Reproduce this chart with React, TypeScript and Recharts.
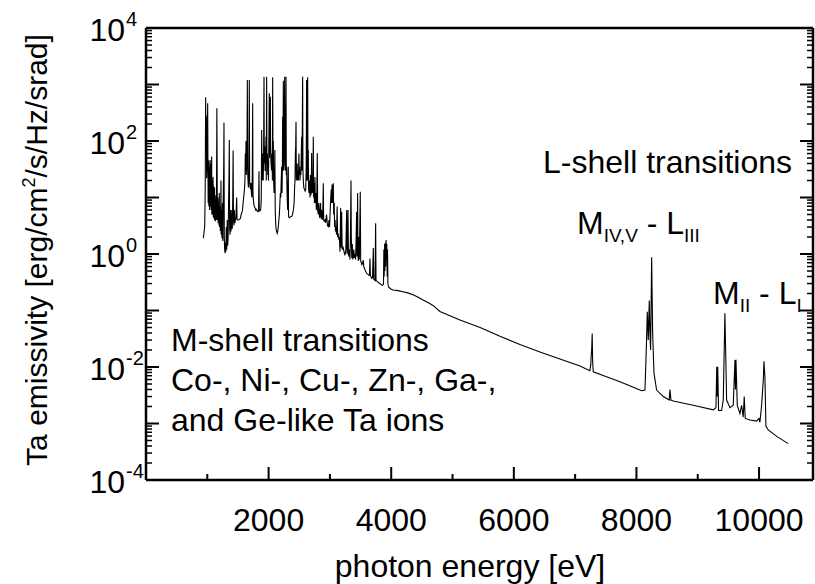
import React from 'react';
import { LineChart, Line, XAxis, YAxis, Customized } from 'recharts';

// [photon energy (eV), emissivity (erg/cm2/s/Hz/srad)]
// M-shell band, onset up to ~1.6 keV
const mBandLow: [number, number][] = [
  [935, 1.9], [945, 2.3], [958, 3.2], [966, 14], [973, 593], [978, 60], [984, 280], [989, 22],
  [996, 40], [1001, 120], [1006, 465], [1011, 30], [1014, 8], [1016, 12], [1019, 30], [1022, 45],
  [1025, 7], [1028, 9], [1031, 35], [1034, 22], [1037, 6], [1040, 8], [1043, 30], [1046, 46],
  [1049, 7], [1052, 10], [1056, 28], [1060, 40], [1063, 6], [1066, 7], [1069, 25], [1071, 53],
  [1074, 5], [1076, 6], [1079, 20], [1082, 14], [1085, 5], [1088, 5.5], [1091, 18], [1094, 23],
  [1097, 4.5], [1100, 5], [1103, 16], [1106, 12], [1109, 4.2], [1112, 4.5], [1115, 12], [1118, 15],
  [1121, 4], [1124, 4], [1127, 11], [1130, 10], [1133, 3.8], [1136, 4.2], [1140, 9], [1144, 8],
  [1147, 4], [1151, 20], [1156, 380], [1162, 12], [1165, 4], [1168, 5], [1172, 10], [1175, 9],
  [1178, 3.5], [1182, 3.8], [1186, 8], [1189, 7], [1192, 3.2], [1196, 12], [1199, 3], [1202, 3.5],
  [1206, 7], [1209, 6], [1212, 2.6], [1216, 2.6], [1220, 9], [1223, 20], [1226, 2.2], [1230, 2.3],
  [1233, 6], [1236, 5], [1239, 1.9], [1242, 2.0], [1246, 7], [1249, 8], [1252, 1.7], [1255, 1.8],
  [1259, 9], [1262, 15], [1267, 30], [1272, 211], [1277, 2], [1283, 1.2], [1289, 1.03], [1296, 1.6],
  [1303, 1.1], [1310, 3], [1317, 1.2], [1325, 4], [1332, 1.4], [1340, 2], [1347, 8], [1354, 25],
  [1359, 104], [1364, 3], [1371, 2.2], [1379, 6], [1386, 2.5], [1394, 3.5], [1401, 6], [1408, 2.8],
  [1415, 10], [1421, 68], [1427, 4], [1434, 3.2], [1442, 6], [1450, 3.5], [1458, 4], [1466, 4.2],
  [1472, 6], [1479, 10], [1485, 4.1], [1495, 4.0], [1510, 4.0], [1525, 4.1], [1540, 4.3], [1552, 5.0],
  [1562, 5.3], [1574, 6], [1584, 8], [1594, 10.3],
];

// M-shell band, strongest lines 1.6 - 2.7 keV
const mBandMid: [number, number][] = [
  [1606, 14], [1614, 20], [1620, 60], [1625, 30], [1631, 100], [1636, 25], [1642, 40], [1647, 60],
  [1653, 1200], [1658, 30], [1664, 20], [1670, 15], [1677, 25], [1685, 1200], [1690, 20], [1696, 15.6],
  [1704, 14], [1711, 18], [1719, 12], [1727, 10], [1734, 25], [1740, 465], [1745, 12], [1752, 9],
  [1760, 7.5], [1770, 6.8], [1780, 6.5], [1790, 6], [1800, 6.2], [1812, 5.8], [1825, 5.6], [1836, 6],
  [1843, 29], [1848, 5.8], [1860, 5.8], [1872, 6.2], [1880, 9], [1887, 157], [1892, 20], [1900, 25],
  [1906, 60], [1912, 20], [1918, 50], [1925, 1370], [1930, 40], [1937, 80], [1943, 30], [1950, 30],
  [1957, 119], [1962, 20], [1968, 1370], [1973, 40], [1980, 60], [1986, 25], [1992, 35], [1998, 20],
  [2004, 100], [2011, 698], [2016, 50], [2022, 200], [2028, 610], [2033, 80], [2040, 40], [2048, 30],
  [2056, 60], [2062, 20], [2066, 1340], [2072, 40], [2077, 100], [2082, 20], [2089, 12], [2096, 15],
  [2102, 69], [2108, 6], [2115, 3.5], [2122, 2.8], [2131, 2.48], [2140, 2.32], [2150, 2.6], [2158, 3],
  [2167, 4], [2176, 5], [2184, 8], [2192, 12], [2199, 10], [2206, 20], [2213, 35], [2219, 12],
  [2225, 40], [2229, 270], [2234, 30], [2240, 1170], [2245, 30], [2250, 60], [2256, 300], [2262, 1370],
  [2267, 40], [2274, 30], [2280, 80], [2284, 1370], [2289, 25], [2295, 35], [2301, 12], [2310, 6],
  [2321, 35], [2326, 4.6], [2336, 4.4], [2350, 4.5], [2364, 4.6], [2376, 4.6], [2390, 5], [2404, 6],
  [2416, 8], [2424, 15], [2430, 20], [2437, 60], [2442, 80], [2447, 220], [2452, 20], [2459, 25],
  [2466, 40], [2473, 20], [2480, 30], [2487, 20], [2494, 60], [2500, 25], [2506, 35], [2512, 20],
  [2519, 30], [2526, 25], [2533, 60], [2539, 119], [2544, 30], [2550, 200], [2555, 1370], [2560, 30],
  [2566, 20], [2574, 15], [2584, 14], [2596, 13], [2606, 14], [2614, 40], [2620, 1200], [2625, 20],
  [2630, 100], [2637, 1340], [2642, 20], [2647, 69], [2652, 14], [2660, 12], [2668, 20], [2675, 10],
  [2682, 25], [2690, 11], [2696, 15],
];

// M-shell band, weaker lines fading into the continuum up to 4 keV
const mBandTail: [number, number][] = [
  [2702, 61], [2708, 12], [2715, 20], [2722, 12], [2729, 119], [2734, 10], [2740, 18], [2748, 8],
  [2756, 23], [2762, 8], [2770, 12], [2778, 6], [2786, 10], [2794, 61], [2800, 6], [2810, 5],
  [2820, 8], [2830, 4.5], [2838, 4.6], [2848, 8], [2856, 4.2], [2866, 6], [2876, 4], [2884, 5],
  [2892, 17.8], [2898, 4], [2908, 3.8], [2919, 4], [2930, 3.6], [2945, 5], [2960, 3.2], [2974, 3.05],
  [2985, 4], [2995, 3], [3005, 6], [3014, 10], [3022, 14], [3029, 8], [3035, 17], [3041, 8],
  [3048, 12], [3055, 17.8], [3062, 5], [3070, 8], [3077, 3], [3084, 4], [3091, 2.5], [3100, 3],
  [3108, 2.2], [3118, 6.9], [3126, 2.0], [3135, 2.3], [3145, 1.8], [3155, 2], [3164, 1.1], [3175, 6.5],
  [3182, 1.3], [3191, 5.6], [3200, 1.2], [3215, 1.3], [3230, 1.1], [3245, 0.95], [3260, 1.2], [3273, 6],
  [3280, 1.0], [3288, 1.5], [3295, 6], [3302, 1.0], [3312, 0.9], [3320, 1.2], [3327, 0.8], [3335, 2],
  [3340, 8], [3344, 20], [3349, 2], [3356, 0.85], [3365, 1.5], [3374, 0.8], [3382, 0.9], [3390, 1.2],
  [3400, 0.85], [3410, 1.0], [3418, 0.8], [3426, 1.5], [3436, 5.6], [3441, 0.9], [3447, 3], [3452, 12],
  [3457, 1], [3464, 0.75], [3472, 2], [3480, 0.8], [3495, 12.7], [3502, 0.75], [3512, 0.7], [3522, 0.65],
  [3532, 0.68], [3544, 0.78], [3552, 0.6], [3565, 0.55], [3580, 0.5], [3592, 0.47], [3604, 0.45], [3618, 0.44],
  [3632, 0.42], [3645, 0.42], [3653, 0.83], [3660, 0.41], [3670, 0.4], [3681, 0.37], [3695, 0.38], [3708, 1.28],
  [3714, 0.36], [3725, 0.35], [3735, 0.34], [3746, 3.5], [3752, 0.34], [3766, 0.33], [3780, 0.32], [3795, 0.31],
  [3816, 0.3], [3832, 0.29], [3848, 0.28], [3862, 0.28], [3874, 0.3], [3880, 1.2], [3885, 0.4], [3892, 1.5],
  [3897, 0.5], [3904, 1.6], [3910, 0.6], [3916, 1.77], [3922, 0.8], [3928, 1.5], [3934, 0.4], [3940, 1.2],
  [3946, 0.3], [3955, 0.26], [3975, 0.25], [3995, 0.24],
];

// free-bound / bremsstrahlung continuum between the two line groups
const continuum: [number, number][] = [
  [4030, 0.23], [4110, 0.225], [4190, 0.215], [4270, 0.205], [4356, 0.19], [4440, 0.172], [4518, 0.153],
  [4600, 0.138], [4681, 0.123], [4795, 0.096], [5121, 0.068], [5450, 0.05], [5774, 0.035], [6100, 0.025],
  [6426, 0.0184], [6752, 0.0139], [7079, 0.0104], [7240, 0.0086],
];

// L-shell lines on the high-energy tail
const lShellLines: [number, number][] = [
  [7255, 0.011], [7262, 0.016], [7270, 0.02], [7278, 0.039], [7286, 0.012], [7296, 0.0082], [7500, 0.0068],
  [7731, 0.0055], [7950, 0.0044], [8084, 0.0038], [8139, 0.0039], [8155, 0.0133], [8165, 0.03], [8177, 0.095],
  [8193, 0.03], [8209, 0.15], [8220, 0.04], [8231, 0.02], [8248, 0.875], [8264, 0.041], [8286, 0.0078],
  [8329, 0.0039], [8438, 0.003], [8535, 0.0026], [8546, 0.004], [8563, 0.0026], [8600, 0.0025], [8926, 0.0021],
  [9253, 0.00174], [9297, 0.0019], [9310, 0.0101], [9318, 0.003], [9326, 0.0101], [9340, 0.0017], [9389, 0.0017],
  [9416, 0.0026], [9443, 0.089], [9471, 0.0026], [9525, 0.0019], [9579, 0.0021], [9607, 0.0133], [9615, 0.004],
  [9623, 0.0135], [9645, 0.0021], [9688, 0.0015], [9715, 0.0021], [9742, 0.0013], [9758, 0.003], [9775, 0.00123],
  [9851, 0.00115], [9960, 0.0011], [9998, 0.00123], [10014, 0.00105], [10042, 0.0021], [10058, 0.0039],
  [10070, 0.006], [10080, 0.0126], [10096, 0.0066], [10112, 0.0009], [10150, 0.00077], [10300, 0.00058],
  [10477, 0.00044],
];

const xTicks = [1000, 2000, 3000, 4000, 5000, 6000, 7000, 8000, 9000, 10000];
const xLabelStep = 2000;
const decades = [-4, -3, -2, -1, 0, 1, 2, 3, 4];
const minorSteps = [2, 3, 4, 5, 6, 7, 8, 9];
const labelledDecades = [-4, -2, 0, 2, 4];

const yTicks: number[] = [];
decades.forEach((d) => {
  yTicks.push(Math.pow(10, d));
  if (d < 4) minorSteps.forEach((m) => yTicks.push(m * Math.pow(10, d)));
});

const FONT = 'Liberation Sans, Arial, Helvetica, sans-serif';
const TEXT = 32;
const SUB = 19;
const MAJOR = 13;
const MINOR = 6;

const data = [...mBandLow, ...mBandMid, ...mBandTail, ...continuum, ...lShellLines].map(([e, v]) => ({ e, v }));

const decadeOf = (v: number) => {
  const p = Math.floor(Math.log10(v) + 1e-9);
  return { p, major: Math.abs(v / Math.pow(10, p) - 1) < 1e-6 };
};

const BottomTick = ({ x, y, payload }: any) => {
  const major = payload.value % xLabelStep === 0;
  return (
    <g>
      <line x1={x} x2={x} y1={y} y2={y - (major ? MAJOR : MINOR)} stroke="#000" strokeWidth={2} />
      {major && (
        <text x={x} y={y + 51} textAnchor="middle" fontSize={TEXT} fontFamily={FONT} fill="#000">
          {payload.value}
        </text>
      )}
    </g>
  );
};

const TopTick = ({ x, y, payload }: any) => {
  const major = payload.value % xLabelStep === 0;
  return <line x1={x} x2={x} y1={y} y2={y + (major ? MAJOR : MINOR)} stroke="#000" strokeWidth={2} />;
};

const LeftTick = ({ x, y, payload }: any) => {
  const { p, major } = decadeOf(payload.value);
  return (
    <g>
      <line x1={x} x2={x + (major ? MAJOR : MINOR)} y1={y} y2={y} stroke="#000" strokeWidth={major ? 2 : 1.5} />
      {major && labelledDecades.includes(p) && (
        <g fontFamily={FONT} fill="#000">
          <text x={x - 21} y={y + 13} textAnchor="end" fontSize={TEXT}>10</text>
          <text x={x - 20} y={y - 2} textAnchor="start" fontSize={20}>{p}</text>
        </g>
      )}
    </g>
  );
};

const RightTick = ({ x, y, payload }: any) => {
  const { major } = decadeOf(payload.value);
  return <line x1={x} x2={x - (major ? MAJOR : MINOR)} y1={y} y2={y} stroke="#000" strokeWidth={major ? 2 : 1.5} />;
};

const Annotations = () => (
  <g fontFamily={FONT} fill="#000">
    <text x={470} y={577} textAnchor="middle" fontSize={TEXT}>photon energy [eV]</text>
    <text x={47} y={250} textAnchor="middle" fontSize={30} transform="rotate(-90 47 250)">
      Ta emissivity [erg/cm
      <tspan fontSize={18} dy={-12}>2</tspan>
      <tspan dy={12}>/s/Hz/srad]</tspan>
    </text>

    <text x={792} y={173} textAnchor="end" fontSize={TEXT}>L-shell transitions</text>
    <text x={577} y={234} fontSize={TEXT}>
      M<tspan fontSize={SUB} dy={8}>IV,V</tspan>
      <tspan dy={-8}> - L</tspan>
      <tspan fontSize={SUB} dy={8}>III</tspan>
    </text>
    <text x={713} y={304} fontSize={TEXT}>
      M<tspan fontSize={SUB} dy={8}>II</tspan>
      <tspan dy={-8}> - L</tspan>
      <tspan fontSize={SUB} dy={8}>I</tspan>
    </text>

    <text x={171} y={351} fontSize={TEXT}>M-shell transitions</text>
    <text x={171} y={391} fontSize={TEXT}>Co-, Ni-, Cu-, Zn-, Ga-,</text>
    <text x={171} y={431} fontSize={TEXT}>and Ge-like Ta ions</text>
  </g>
);

const axisLine = { stroke: '#000', strokeWidth: 2.5 };

export default function App() {
  return (
    <div style={{ position: 'absolute', left: 0, top: 0, width: 815, height: 584, background: '#fff' }}>
      <LineChart width={815} height={584} data={data} margin={{ top: 0, right: 0, bottom: 0, left: 0 }}>
        <XAxis
          dataKey="e"
          type="number"
          domain={[0, 10880]}
          allowDataOverflow
          ticks={xTicks}
          interval={0}
          height={104}
          tickSize={0}
          tickMargin={0}
          tickLine={false}
          axisLine={axisLine}
          tick={<BottomTick />}
        />
        <XAxis
          xAxisId="top"
          orientation="top"
          type="number"
          domain={[0, 10880]}
          allowDataOverflow
          ticks={xTicks}
          interval={0}
          height={28}
          tickSize={0}
          tickMargin={0}
          tickLine={false}
          axisLine={axisLine}
          tick={<TopTick />}
        />
        <YAxis
          type="number"
          scale="log"
          domain={[1e-4, 1e4]}
          allowDataOverflow
          ticks={yTicks}
          interval={0}
          width={146}
          tickSize={0}
          tickMargin={0}
          tickLine={false}
          axisLine={axisLine}
          tick={<LeftTick />}
        />
        <YAxis
          yAxisId="right"
          orientation="right"
          type="number"
          scale="log"
          domain={[1e-4, 1e4]}
          allowDataOverflow
          ticks={yTicks}
          interval={0}
          width={2}
          tickSize={0}
          tickMargin={0}
          tickLine={false}
          axisLine={axisLine}
          tick={<RightTick />}
        />
        <Line
          type="linear"
          dataKey="v"
          stroke="#000"
          strokeWidth={1.1}
          dot={false}
          activeDot={false}
          isAnimationActive={false}
        />
        <Customized component={Annotations} />
      </LineChart>
    </div>
  );
}
